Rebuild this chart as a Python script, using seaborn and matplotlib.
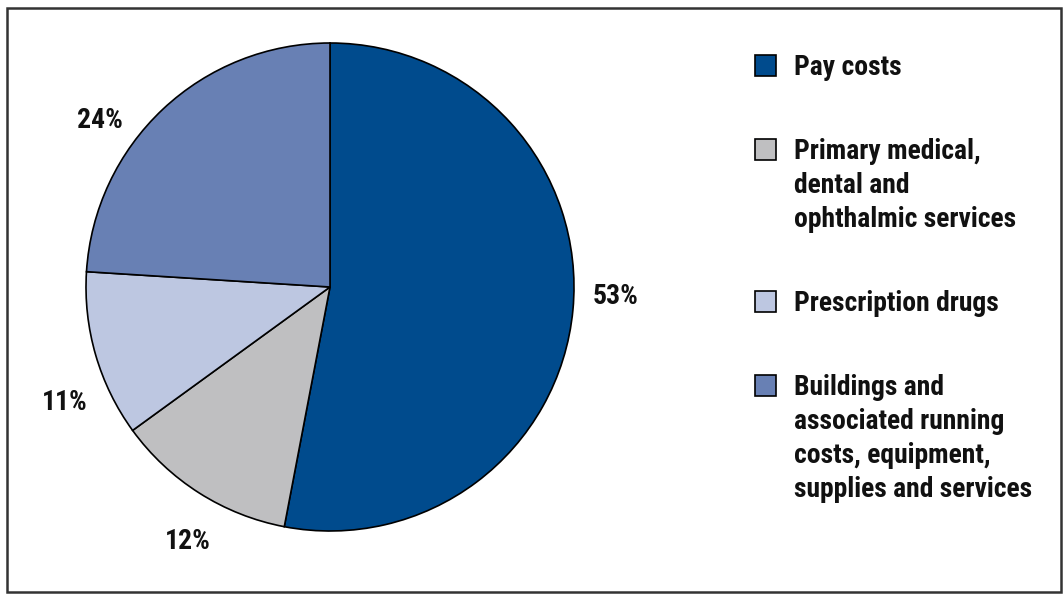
import matplotlib
matplotlib.use("Agg")
import numpy as np
import matplotlib.pyplot as plt
from matplotlib.patches import Rectangle
from matplotlib import font_manager
import seaborn as sns

categories = [
    "Pay costs",
    "Primary medical,\ndental and\nophthalmic services",
    "Prescription drugs",
    "Buildings and\nassociated running\ncosts, equipment,\nsupplies and services",
]
values = [53, 12, 11, 24]
pct_labels = ["53%", "12%", "11%", "24%"]
colors = ["#004B8D", "#BFBFC1", "#BDC7E1", "#6880B4"]

# label placement tweaks (style): radial distance and angular offset in degrees
label_dist = [1.173, 1.193, 1.186, 1.163]
label_dang = [3.4, 3.2, 7.4, 10.8]

sns.set_theme(style="white")
names = {f.name for f in font_manager.fontManager.ttflist}
fam = "Liberation Sans"
for cand in ["Liberation Sans Narrow", "Roboto Condensed", "DejaVu Sans Condensed",
             "Open Sans Condensed", "Noto Sans Condensed", "Arial Narrow"]:
    if cand in names:
        fam = cand
        break
plt.rcParams["font.family"] = [fam, "DejaVu Sans"]
WEIGHT = "semibold"

W, H = 1064, 595
fig = plt.figure(figsize=(W / 100, H / 100), dpi=100)
fig.patch.set_facecolor("white")
renderer = fig.canvas.get_renderer()

# fit font size so the longest legend line is ~238 px wide
probe = fig.text(0, 0, "supplies and services", fontsize=20, fontweight=WEIGHT)
wpx = probe.get_window_extent(renderer).width
probe.remove()
fs = min(20.0, 20.0 * 238.0 / wpx)

probe = fig.text(0, 0, "53%", fontsize=20, fontweight=WEIGHT)
wpx2 = probe.get_window_extent(renderer).width
probe.remove()
fs_pct = min(20.0, 20.0 * 48.0 / wpx2)

cx, cy, r = 330, 287, 244
ax = fig.add_axes([(cx - r) / W, (H - cy - r) / H, 2 * r / W, 2 * r / H])
wedges, texts = ax.pie(
    values,
    labels=pct_labels,
    colors=colors,
    startangle=90,
    counterclock=False,
    labeldistance=1.17,
    radius=1.0,
    wedgeprops=dict(edgecolor="black", linewidth=1.2),
    textprops=dict(fontsize=fs_pct, fontweight=WEIGHT, color="#111111"),
)
for w, t, d, da in zip(wedges, texts, label_dist, label_dang):
    mid = np.deg2rad((w.theta1 + w.theta2) / 2 + da)
    t.set_position((d * np.cos(mid), d * np.sin(mid)))
    t.set_ha("center")
    t.set_va("center")
ax.set_xlim(-1, 1)
ax.set_ylim(-1, 1)
ax.set_aspect("equal")
ax.axis("off")

# legend, drawn manually so that squares align with the first line
sq = 21
x_sq = 755
x_txt = 794
line_h = 34
gap = 84
y = 65.5
for lab, col in zip(categories, colors):
    fig.add_artist(Rectangle((x_sq / W, (H - y - sq / 2) / H), sq / W, sq / H,
                             transform=fig.transFigure, facecolor=col,
                             edgecolor="black", linewidth=1.2))
    lines = lab.split("\n")
    for i, ln in enumerate(lines):
        fig.text(x_txt / W, (H - (y + i * line_h + 9.5)) / H, ln, fontsize=fs,
                 fontweight=WEIGHT, color="#111111", ha="left", va="baseline")
    y += (len(lines) - 1) * line_h + gap

# outer frame
fig.add_artist(Rectangle((7 / W, 3 / H), (1061 - 7) / W, (592 - 8) / H,
                         transform=fig.transFigure, fill=False,
                         edgecolor="#333333", linewidth=1.8))

fig.savefig("out.png", dpi=100, facecolor="white")
